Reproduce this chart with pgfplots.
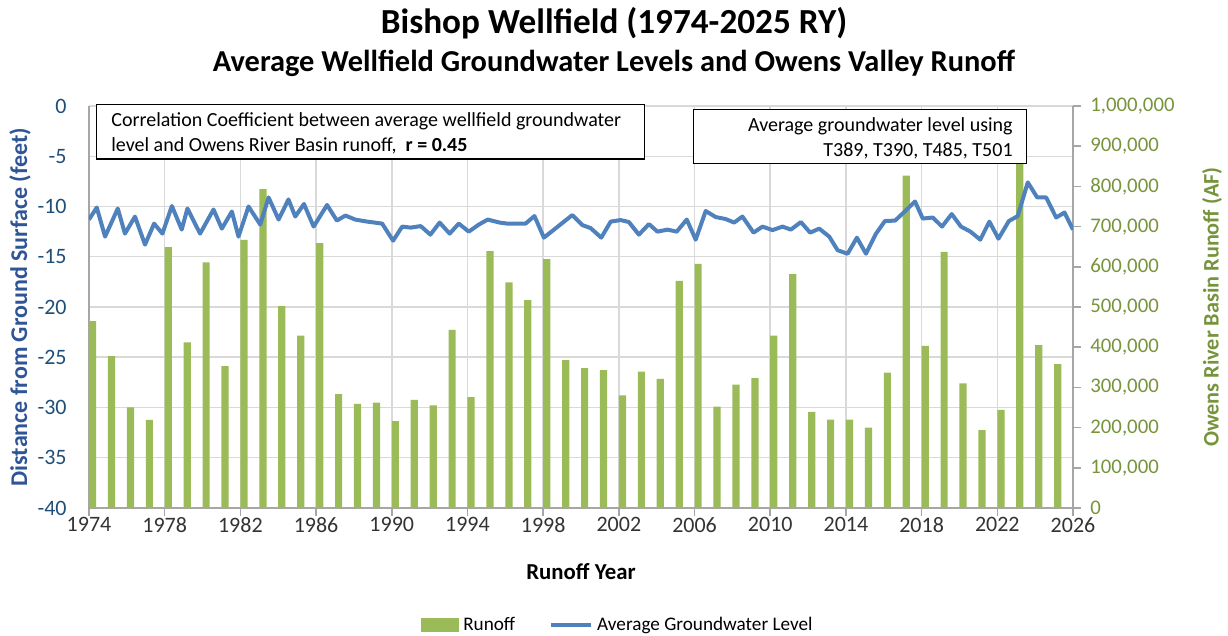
\documentclass[border=0pt]{standalone}
\usepackage{fontspec}
\setmainfont{Carlito}
\usepackage{pgfplots}
\pgfplotsset{compat=1.18}
\definecolor{barGreen}{HTML}{9BBB59}
\definecolor{lineBlue}{HTML}{4F81BD}
\definecolor{tickBlue}{HTML}{1F4E79}
\definecolor{labBlue}{HTML}{2F5597}
\definecolor{oliveG}{HTML}{77933C}
\definecolor{axGray}{HTML}{A6A6A6}
\definecolor{gridGray}{HTML}{D9D9D9}
\definecolor{gridLight}{HTML}{EDEDED}
\begin{document}
\begin{tikzpicture}
\useasboundingbox (-44.5pt,-64pt) rectangle (569.5pt,254pt);
\pgfplotsset{
  common/.style={scale only axis, width=492pt, height=201pt, xmin=1974, xmax=2026,
    /pgf/number format/assume math mode=true,
    tick label style={font=\fontsize{11}{13}\selectfont},
    tick align=outside, major tick length=4pt, minor tick length=0pt,
    tick style={axGray, line width=0.75pt},
    axis line style={axGray, line width=0.75pt}}
}
% grid + left axis + x axis
\begin{axis}[common, ymin=-40, ymax=0,
  axis x line*=bottom, axis y line*=left,
  xtick={1974,1978,...,2026}, minor x tick num=1,
  xmajorgrids, xminorgrids, ymajorgrids,
  major grid style={gridGray, line width=0.75pt},
  minor grid style={gridLight, line width=0.75pt},
  ytick={-40,-35,-30,-25,-20,-15,-10,-5,0},
  ytick style={draw=none},
  xticklabel style={/pgf/number format/1000 sep={}, color=black!80, anchor=north, inner sep=0pt, yshift=-0.5pt},
  yticklabel style={color=tickBlue, anchor=east, inner sep=0pt, xshift=-7pt},
  xlabel={Runoff Year},
  xlabel style={font=\bfseries\fontsize{11.4}{13}\selectfont, at={(axis description cs:0.5,-0.159)}, anchor=center},
  ylabel={Distance from Ground Surface (feet)},
  ylabel style={font=\bfseries\fontsize{12}{14}\selectfont, color=labBlue, at={(axis description cs:-0.0701,0.5)}, anchor=center},
]
\end{axis}
% bars, right axis
\begin{axis}[common, ymin=0, ymax=1000000,
  axis x line=none, axis y line*=right, xtick=\empty,
  ytick={0,100000,200000,300000,400000,500000,600000,700000,800000,900000,1000000},
  scaled y ticks=false,
  yticklabel style={font=\fontsize{10.4}{12}\selectfont, color=oliveG, anchor=west, inner sep=0pt, xshift=4.5pt, /pgf/number format/.cd, fixed, 1000 sep={,}},
  ylabel={Owens River Basin Runoff (AF)},
  ylabel style={font=\bfseries\fontsize{11.1}{13}\selectfont, color=oliveG, at={(axis description cs:1.1413,0.5)}, anchor=center},
]
\addplot[ybar, bar width=3.6pt, bar shift=1.8pt, fill=barGreen, draw=none] table {
year runoff
1974 465000
1975 378000
1976 250000
1977 219000
1978 649000
1979 412000
1980 611000
1981 353000
1982 667000
1983 793000
1984 502000
1985 429000
1986 659000
1987 283000
1988 259000
1989 262000
1990 216000
1991 269000
1992 255000
1993 443000
1994 276000
1995 639000
1996 561000
1997 517000
1998 619000
1999 368000
2000 348000
2001 343000
2002 280000
2003 339000
2004 321000
2005 565000
2006 607000
2007 252000
2008 307000
2009 323000
2010 429000
2011 582000
2012 239000
2013 220000
2014 220000
2015 200000
2016 337000
2017 827000
2018 403000
2019 637000
2020 310000
2021 194000
2022 244000
2023 880000
2024 405000
2025 358000
};
\end{axis}
% groundwater line
\begin{axis}[common, ymin=-40, ymax=0, hide axis,
  legend style={at={(0.5386,-0.291)}, anchor=center, draw=none, fill=none,
    font=\fontsize{9.6}{11}\selectfont, legend columns=2,
    /tikz/every even column/.append style={column sep=15pt}},
]
\addlegendimage{legend image code/.code={\fill[barGreen] (0pt,-3.25pt) rectangle (18.5pt,3.25pt);}}
\addlegendentry{Runoff}
\addplot[lineBlue, line width=2pt, line join=round,
  legend image code/.code={\draw[lineBlue, line width=2pt] (0pt,0pt) -- (20pt,0pt);}] table {
yr gw
1974.0 -11.3
1974.41 -10.1
1974.85 -13.0
1975.52 -10.2
1975.9 -12.7
1976.43 -11.0
1976.96 -13.8
1977.44 -11.7
1977.88 -12.7
1978.38 -9.95
1978.9 -12.3
1979.2 -10.2
1979.87 -12.7
1980.58 -10.3
1981.02 -12.2
1981.55 -10.5
1981.9 -13.0
1982.43 -10.0
1983.05 -11.8
1983.49 -9.1
1984.02 -11.3
1984.54 -9.3
1984.9 -11.0
1985.36 -9.75
1985.87 -12.0
1986.58 -9.85
1987.1 -11.4
1987.55 -10.9
1988.07 -11.3
1988.69 -11.5
1989.49 -11.7
1990.07 -13.4
1990.55 -12.0
1991.0 -12.1
1991.53 -11.95
1992.04 -12.8
1992.53 -11.6
1993.06 -12.7
1993.54 -11.7
1994.07 -12.5
1994.6 -11.8
1995.07 -11.3
1995.7 -11.6
1996.1 -11.7
1997.07 -11.7
1997.54 -10.95
1998.04 -13.1
1999.54 -10.85
2000.07 -11.85
2000.51 -12.15
2001.07 -13.1
2001.57 -11.5
2002.1 -11.35
2002.53 -11.55
2003.06 -12.8
2003.59 -11.75
2004.04 -12.5
2004.57 -12.3
2005.06 -12.5
2005.59 -11.3
2006.06 -13.3
2006.59 -10.45
2007.12 -11.05
2007.65 -11.25
2008.09 -11.6
2008.53 -11.0
2009.12 -12.6
2009.59 -12.0
2010.12 -12.35
2010.65 -12.0
2011.09 -12.3
2011.62 -11.55
2012.11 -12.6
2012.59 -12.2
2013.12 -13.0
2013.56 -14.35
2014.09 -14.7
2014.58 -13.1
2015.06 -14.7
2015.59 -12.7
2016.06 -11.45
2016.6 -11.4
2017.08 -10.55
2017.65 -9.5
2018.06 -11.2
2018.59 -11.1
2019.08 -12.0
2019.59 -10.75
2020.08 -12.0
2020.58 -12.5
2021.1 -13.3
2021.58 -11.5
2022.06 -13.2
2022.61 -11.45
2023.08 -10.95
2023.61 -7.6
2024.11 -9.1
2024.58 -9.1
2025.11 -11.1
2025.55 -10.6
2026.0 -12.3
};
\addlegendentry{Average Groundwater Level}
\end{axis}
% annotation boxes
\draw[black, line width=0.75pt, fill=white] (3.85pt,174.5pt) rectangle (277.65pt,201.85pt);
\node[anchor=base west, inner sep=0pt, font=\fontsize{10}{12}\selectfont] at (11pt,190.65pt) {Correlation Coefficient between average wellfield groundwater};
\node[anchor=base west, inner sep=0pt, font=\fontsize{10}{12}\selectfont] at (11pt,178.15pt) {level and Owens River Basin runoff,\ \ \textbf{r = 0.45}};
\draw[black, line width=0.75pt, fill=white] (302.35pt,172.35pt) rectangle (468.85pt,199.35pt);
\node[anchor=base east, inner sep=0pt, font=\fontsize{10}{12}\selectfont] at (462pt,188.15pt) {Average groundwater level using};
\node[anchor=base east, inner sep=0pt, font=\fontsize{10}{12}\selectfont] at (462pt,175.65pt) {T389, T390, T485, T501};
% titles
\node[anchor=base, inner sep=0pt, font=\bfseries\fontsize{17.6}{20}\selectfont] at (262.5pt,237.3pt) {Bishop Wellfield (1974-2025 RY)};
\node[anchor=base, inner sep=0pt, font=\bfseries\fontsize{15.2}{18}\selectfont] at (262.5pt,218.1pt) {Average Wellfield Groundwater Levels and Owens Valley Runoff};
\end{tikzpicture}
\end{document}
